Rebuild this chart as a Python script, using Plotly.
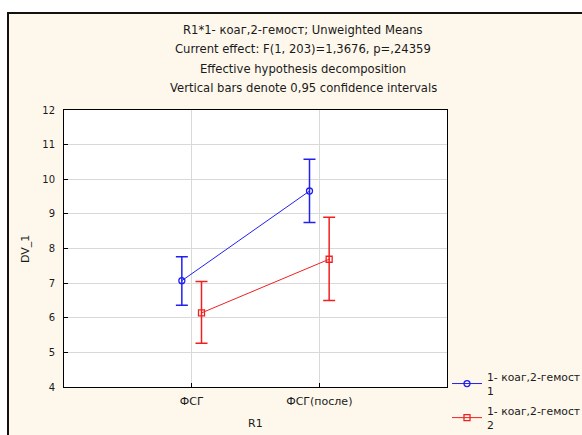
import plotly.graph_objects as go

categories = ["ФСГ", "ФСГ(после)"]
series_names = ["1- коаг,2-гемост<br>1", "1- коаг,2-гемост<br>2"]
means_1 = [7.07, 9.66]
upper_1 = [0.69, 0.92]
lower_1 = [0.71, 0.91]
means_2 = [6.14, 7.69]
upper_2 = [0.91, 1.21]
lower_2 = [0.88, 1.19]
title_lines = [
    "R1*1- коаг,2-гемост; Unweighted Means",
    "Current effect: F(1, 203)=1,3676, p=,24359",
    "Effective hypothesis decomposition",
    "Vertical bars denote 0,95 confidence intervals",
]

FONT = "DejaVu Sans, Verdana, sans-serif"
TXT = "#1a1a1a"
BLUE = "#2020F0"
RED = "#F02020"
OFF = 0.077

x_idx = list(range(len(categories)))

fig = go.Figure()
fig.add_trace(go.Scatter(
    x=[i - OFF for i in x_idx], y=means_1, name=series_names[0],
    mode="lines+markers",
    line=dict(color=BLUE, width=1),
    marker=dict(symbol="circle-open", size=6, color=BLUE, line=dict(width=1.3)),
    error_y=dict(type="data", array=upper_1, arrayminus=lower_1, color=BLUE,
                 thickness=1.5, width=6),
    legendgroup="a",
))
fig.add_trace(go.Scatter(
    x=[i + OFF for i in x_idx], y=means_2, name=series_names[1],
    mode="lines+markers",
    line=dict(color=RED, width=1),
    marker=dict(symbol="square-open", size=6, color=RED, line=dict(width=1.3)),
    error_y=dict(type="data", array=upper_2, arrayminus=lower_2, color=RED,
                 thickness=1.5, width=6),
    legendgroup="b",
))

W, H = 582, 435
L, R, T, B = 64, 447, 110, 387

def px(x):
    return (x - L) / (R - L)

def py(y):
    return (B - y) / (B - T)

annotations = []
for i, t in enumerate(title_lines):
    annotations.append(dict(
        text=t, x=px(303), y=py(30 + 19.3 * i), xref="paper", yref="paper",
        xanchor="center", yanchor="middle", showarrow=False,
        font=dict(family=FONT, size=11.6, color=TXT),
    ))
annotations.append(dict(text="DV_1", x=px(25), y=py(249), xref="paper", yref="paper",
                        textangle=-90, showarrow=False, xanchor="center", yanchor="middle",
                        font=dict(family=FONT, size=11, color=TXT)))
annotations.append(dict(text="R1", x=px(256), y=py(423), xref="paper", yref="paper",
                        showarrow=False, xanchor="center", yanchor="middle",
                        font=dict(family=FONT, size=11, color=TXT)))

shapes = [
    dict(type="rect", xref="paper", yref="paper", x0=px(8), x1=px(600), y0=py(13), y1=py(450),
         line=dict(color="#111111", width=2), fillcolor="rgba(0,0,0,0)", layer="above"),
    dict(type="rect", xref="paper", yref="paper", x0=px(-5), x1=px(600), y0=py(12), y1=py(-5),
         line=dict(width=0), fillcolor="white", layer="below"),
    dict(type="rect", xref="paper", yref="paper", x0=px(-5), x1=px(7), y0=py(450), y1=py(-5),
         line=dict(width=0), fillcolor="white", layer="below"),
]

fig.update_layout(
    width=W, height=H,
    margin=dict(l=L, r=W - R, t=T, b=H - B, autoexpand=False),
    paper_bgcolor="#FEF8EC",
    plot_bgcolor="white",
    font=dict(family=FONT, size=10, color=TXT),
    annotations=annotations,
    shapes=shapes,
    showlegend=True,
    legend=dict(x=px(447), y=py(363), xanchor="left", yanchor="top",
                bgcolor="rgba(0,0,0,0)", font=dict(family=FONT, size=10.8, color=TXT),
                tracegroupgap=3, itemwidth=30),
    xaxis=dict(range=[-1, 2], tickvals=x_idx, ticktext=categories,
               showgrid=True, gridcolor="#D9D9D9", gridwidth=1,
               showline=True, linecolor="black", linewidth=1, mirror=True,
               ticks="inside", ticklen=4, tickcolor="black", zeroline=False,
               tickfont=dict(size=11), ticklabelstandoff=4),
    yaxis=dict(range=[4, 12], dtick=1, tick0=4,
               showgrid=True, gridcolor="#D9D9D9", gridwidth=1,
               showline=True, linecolor="black", linewidth=1, mirror=True,
               ticks="inside", ticklen=4, tickcolor="black", zeroline=False,
               tickfont=dict(size=10), ticklabelstandoff=6),
)

fig.write_html("out.html")
